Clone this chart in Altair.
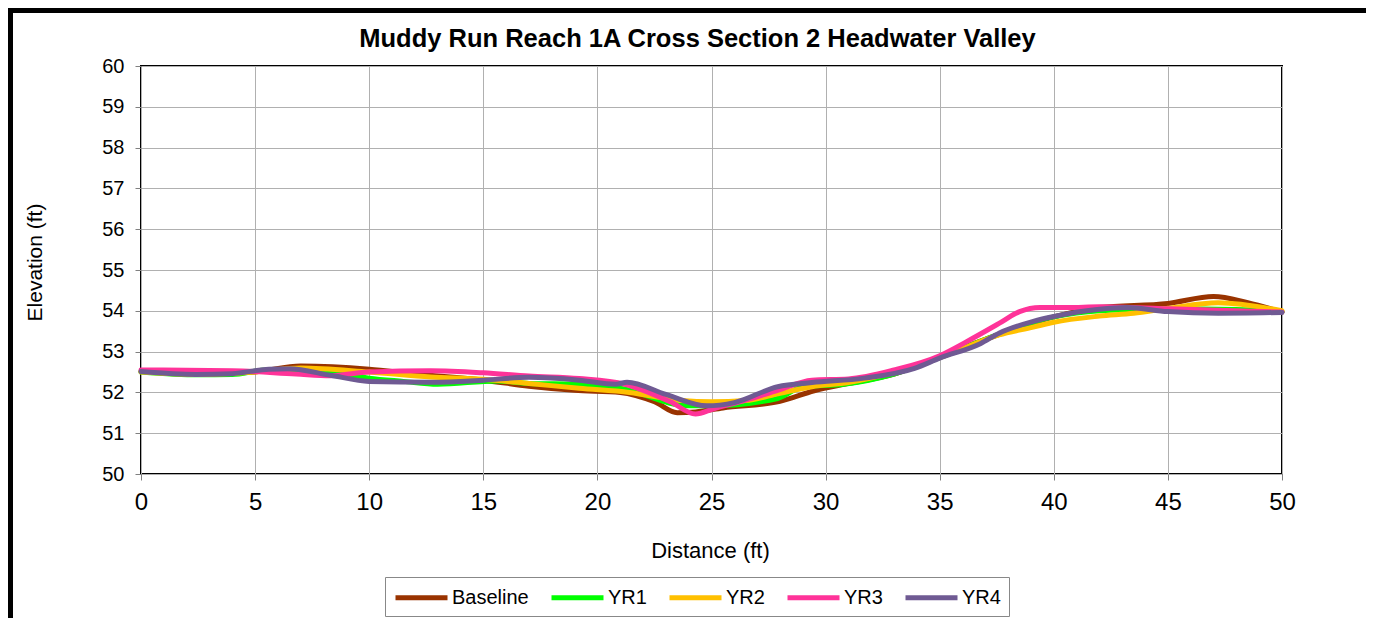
import altair as alt
import pandas as pd

FONT = "Liberation Sans"

series_names = ["Baseline", "YR1", "YR2", "YR3", "YR4"]
series_colors = ["#993300", "#00FF00", "#FFC000", "#FF3399", "#6F5A93"]

baseline_x = [0, 2.5, 5, 7, 10, 12, 15, 17, 19, 21, 22.5, 23.5, 24.3, 25.5, 28, 29.5, 31, 33, 35, 37, 40, 42, 45, 47, 48.5, 50]
baseline_y = [52.52, 52.45, 52.5, 52.65, 52.57, 52.45, 52.3, 52.15, 52.05, 52.0, 51.77, 51.5, 51.52, 51.62, 51.78, 52.04, 52.22, 52.45, 52.88, 53.3, 53.85, 54.08, 54.18, 54.35, 54.2, 53.97]

yr1_x = [0, 2.5, 4, 5.5, 7, 8.5, 10, 11.5, 13, 15.6, 17, 19.2, 21, 24, 25, 27.9, 29, 30.8, 33, 35, 37, 40, 42, 45, 48, 50]
yr1_y = [52.5, 52.43, 52.44, 52.55, 52.55, 52.5, 52.35, 52.27, 52.2, 52.28, 52.22, 52.2, 52.1, 51.67, 51.67, 51.85, 52.14, 52.2, 52.45, 52.85, 53.3, 53.85, 54.0, 54.05, 54.03, 53.98]

yr2_x = [0, 2.5, 5, 7, 10, 12.7, 15, 17, 19.2, 21.4, 23.7, 25, 26.5, 28, 29.4, 31, 35, 37.6, 39.1, 40, 42, 43.5, 45, 47.2, 50]
yr2_y = [52.5, 52.44, 52.5, 52.6, 52.5, 52.38, 52.32, 52.22, 52.1, 52.0, 51.8, 51.77, 51.8, 51.98, 52.14, 52.24, 52.85, 53.41, 53.6, 53.72, 53.87, 53.94, 54.06, 54.2, 54.0]

yr3_x = [0, 4, 6.8, 8.3, 10, 12.7, 15, 17, 19.2, 21.2, 23.2, 24.3, 25.1, 26.5, 27.9, 29.4, 31, 33, 35, 36.2, 37.6, 38.5, 39.4, 40.6, 42, 45, 47.9, 50]
yr3_y = [52.55, 52.53, 52.45, 52.41, 52.5, 52.53, 52.48, 52.4, 52.34, 52.2, 51.77, 51.47, 51.6, 51.81, 52.05, 52.3, 52.33, 52.55, 52.9, 53.25, 53.69, 53.98, 54.08, 54.08, 54.1, 54.05, 54.0, 53.97]

yr4_x = [0, 2.4, 4, 5.6, 6.5, 8.3, 10, 12.7, 15, 17, 19.2, 20.8, 21.3, 23, 24.8, 26, 27.9, 29.4, 31.7, 33.9, 35, 36.8, 37.6, 39.1, 40, 42, 43.2, 45, 47.2, 50]
yr4_y = [52.51, 52.44, 52.46, 52.57, 52.58, 52.42, 52.27, 52.25, 52.3, 52.37, 52.3, 52.2, 52.25, 51.95, 51.67, 51.75, 52.14, 52.24, 52.35, 52.59, 52.84, 53.2, 53.45, 53.74, 53.86, 54.04, 54.08, 53.98, 53.94, 53.96]

x_ticks = [0, 5, 10, 15, 20, 25, 30, 35, 40, 45, 50]
y_ticks = [50, 51, 52, 53, 54, 55, 56, 57, 58, 59, 60]

rows = []
for name, xs, ys in zip(series_names,
                        [baseline_x, yr1_x, yr2_x, yr3_x, yr4_x],
                        [baseline_y, yr1_y, yr2_y, yr3_y, yr4_y]):
    for i, (a, b) in enumerate(zip(xs, ys)):
        rows.append({"series": name, "dist": a, "elev": b, "i": i})
df = pd.DataFrame(rows)

x_enc = alt.X("dist:Q", scale=alt.Scale(domain=[0, 50], nice=False, zero=False),
              axis=alt.Axis(values=x_ticks, title="Distance (ft)", labelFontSize=24,
                            labelFlush=False, labelPadding=10, tickSize=6,
                            titleFontSize=22, titleX=569, titleY=76, titleBaseline="middle"))
y_enc = alt.Y("elev:Q", scale=alt.Scale(domain=[50, 60], nice=False, zero=False),
              axis=alt.Axis(values=y_ticks, title="Elevation (ft)", labelFontSize=20,
                            labelPadding=11, tickSize=6, titleFontSize=21,
                            titleX=-106, titleY=196, titleBaseline="middle", titleAngle=270))

color = alt.Color("series:N",
                  scale=alt.Scale(domain=series_names, range=series_colors),
                  legend=alt.Legend(title=None, orient="none", legendX=244, legendY=511,
                                    direction="horizontal", symbolType="M-2.6,0H2.6",
                                    symbolSize=400, symbolStrokeWidth=5, symbolOffset=16,
                                    labelFontSize=20, labelFont=FONT, labelOffset=18,
                                    columnPadding=12, padding=8, strokeColor="#888888",
                                    labelLimit=0, labelColor="black"))

layers = []
for name in series_names:
    layers.append(
        alt.Chart(df).transform_filter(alt.datum.series == name)
        .mark_line(interpolate="monotone", strokeWidth=5, strokeCap="round", strokeJoin="round")
        .encode(x=x_enc, y=y_enc, color=color, order="i:Q")
    )

border_df = pd.DataFrame({"k": [0]})
top_border = alt.Chart(border_df).mark_rule(color="black", strokeWidth=5).encode(
    x=alt.value(-133), x2=alt.value(1225), y=alt.value(-55.5))
left_border = alt.Chart(border_df).mark_rule(color="black", strokeWidth=5).encode(
    x=alt.value(-130.5), y=alt.value(-58), y2=alt.value(552))

chart = alt.layer(*layers, top_border, left_border).properties(
    width=1141, height=408,
    padding={"left": 133, "top": 58, "right": 84, "bottom": 144},
    autosize=alt.AutoSizeParams(type="none"),
    title=alt.Title("Muddy Run Reach 1A Cross Section 2 Headwater Valley",
                    fontSize=25.5, fontWeight="bold", font=FONT, anchor="middle",
                    frame="group", dx=-14, dy=47, offset=0, color="black"),
).configure_view(stroke="black", strokeWidth=2).configure_axis(
    gridColor="#b0b0b0", gridWidth=1, tickColor="#808080", domain=False,
    labelFont=FONT, titleFont=FONT, labelColor="black", titleColor="black",
    titleFontWeight="normal"
)

chart.save("out.html", embed_options={"renderer": "svg", "actions": False})
